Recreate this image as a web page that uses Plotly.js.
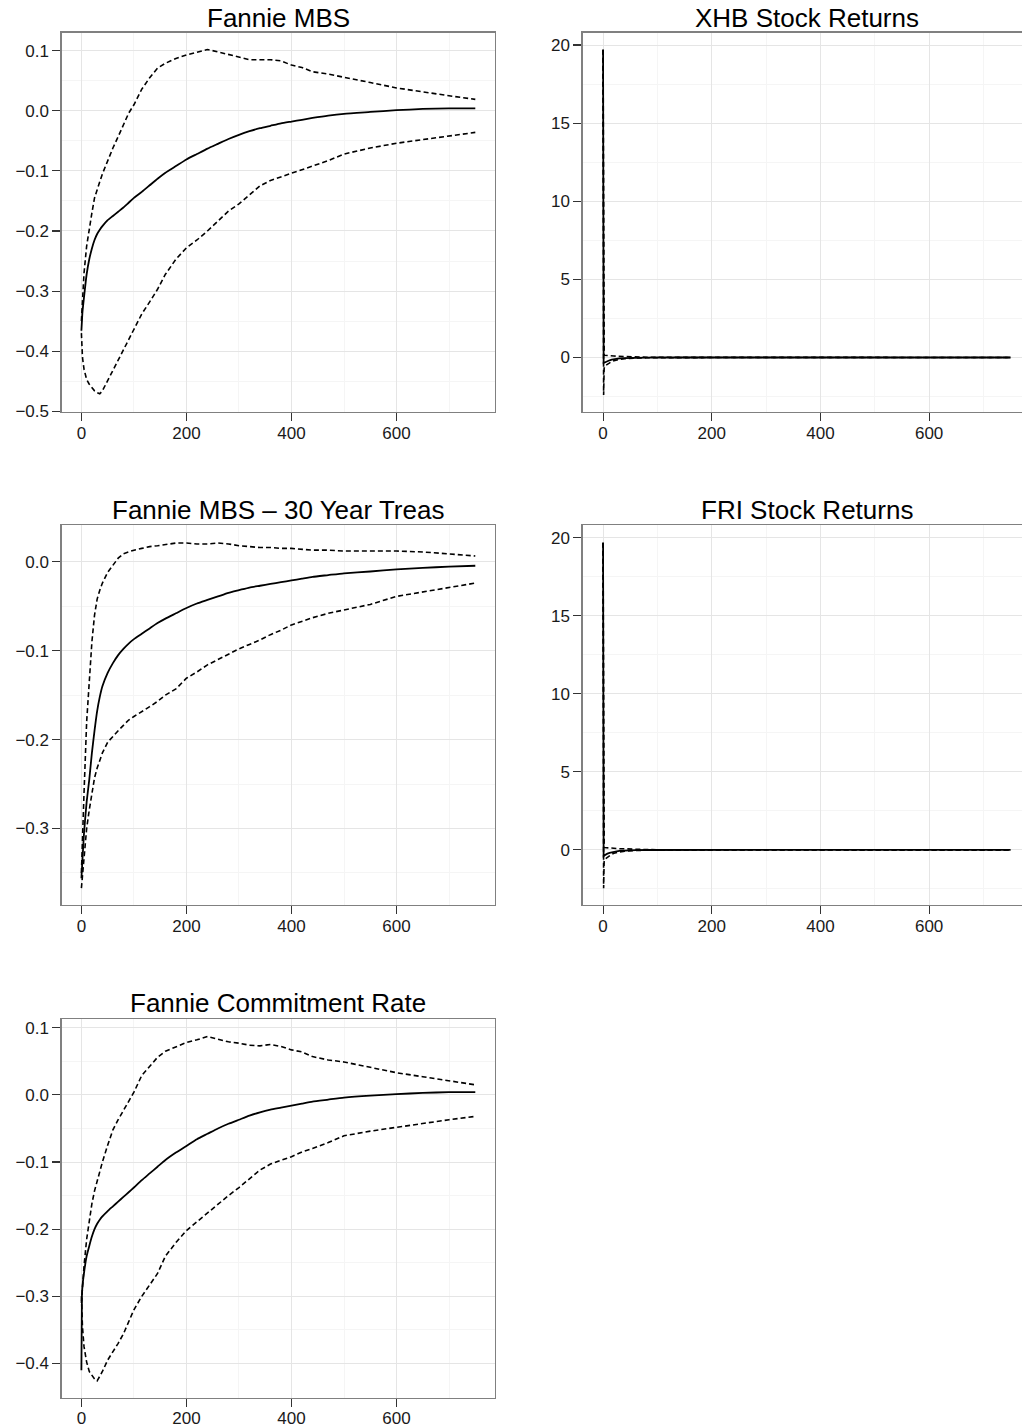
<!DOCTYPE html>
<html>
<head>
<meta charset="utf-8">
<script src="https://cdn.plot.ly/plotly-3.0.1.min.js"></script>
<style>
html,body{margin:0;padding:0;background:#fff;overflow:hidden;}
#chart{width:1040px;height:1428px;}
</style>
</head>
<body>
<div id="chart"></div>
<script>
// ---------- data ----------
const horizon = [0,1,2,5,10,15,20,25,30,35,40,50,60,70,80,90,100,115,130,145,160,180,200,220,240,260,280,300,320,340,360,380,400,420,440,470,500,550,600,650,700,750];

// Fannie MBS
const mbsMid = [-0.366,-0.35,-0.335,-0.31,-0.272,-0.247,-0.229,-0.215,-0.205,-0.198,-0.192,-0.182,-0.175,-0.168,-0.161,-0.153,-0.145,-0.135,-0.124,-0.113,-0.103,-0.092,-0.081,-0.072,-0.063,-0.055,-0.047,-0.040,-0.034,-0.029,-0.025,-0.021,-0.018,-0.015,-0.012,-0.008,-0.005,-0.002,0.001,0.003,0.004,0.004];
const mbsUp  = [-0.35,-0.33,-0.31,-0.27,-0.225,-0.195,-0.17,-0.145,-0.13,-0.118,-0.105,-0.082,-0.062,-0.043,-0.022,-0.004,0.01,0.036,0.055,0.071,0.079,0.087,0.093,0.097,0.102,0.098,0.094,0.09,0.085,0.085,0.085,0.083,0.076,0.072,0.065,0.061,0.056,0.047,0.038,0.031,0.025,0.019];
const mbsLo  = [-0.37,-0.39,-0.41,-0.43,-0.447,-0.455,-0.461,-0.466,-0.469,-0.471,-0.466,-0.45,-0.432,-0.415,-0.398,-0.38,-0.363,-0.338,-0.318,-0.297,-0.272,-0.247,-0.228,-0.215,-0.2,-0.184,-0.167,-0.155,-0.14,-0.125,-0.116,-0.11,-0.103,-0.097,-0.092,-0.083,-0.072,-0.062,-0.054,-0.048,-0.042,-0.036];

// Fannie MBS - 30 Year Treas
const sprMid = [-0.356,-0.346,-0.335,-0.305,-0.27,-0.245,-0.215,-0.19,-0.168,-0.152,-0.14,-0.125,-0.114,-0.105,-0.098,-0.092,-0.087,-0.081,-0.075,-0.069,-0.064,-0.058,-0.052,-0.047,-0.043,-0.039,-0.035,-0.032,-0.029,-0.027,-0.025,-0.023,-0.021,-0.019,-0.017,-0.015,-0.013,-0.011,-0.0086,-0.007,-0.0055,-0.0045];
const sprUp  = [-0.35,-0.33,-0.31,-0.26,-0.18,-0.13,-0.09,-0.06,-0.042,-0.032,-0.024,-0.012,-0.004,0.004,0.009,0.011,0.013,0.015,0.017,0.018,0.019,0.021,0.021,0.020,0.020,0.021,0.020,0.018,0.017,0.016,0.016,0.015,0.015,0.014,0.013,0.013,0.012,0.012,0.012,0.011,0.009,0.0065];
const sprLo  = [-0.367,-0.36,-0.35,-0.33,-0.3,-0.279,-0.258,-0.243,-0.232,-0.222,-0.215,-0.203,-0.196,-0.19,-0.184,-0.178,-0.174,-0.168,-0.163,-0.157,-0.15,-0.143,-0.131,-0.124,-0.116,-0.11,-0.104,-0.098,-0.093,-0.088,-0.082,-0.077,-0.071,-0.067,-0.063,-0.058,-0.054,-0.048,-0.039,-0.034,-0.029,-0.024];

// Fannie Commitment Rate
const comMid = [-0.41,-0.30,-0.285,-0.265,-0.24,-0.225,-0.211,-0.2,-0.192,-0.186,-0.181,-0.173,-0.166,-0.159,-0.152,-0.145,-0.138,-0.127,-0.117,-0.107,-0.097,-0.086,-0.076,-0.066,-0.058,-0.05,-0.043,-0.037,-0.031,-0.026,-0.022,-0.019,-0.016,-0.013,-0.010,-0.007,-0.004,-0.001,0.001,0.003,0.004,0.004];
const comUp  = [-0.31,-0.295,-0.285,-0.255,-0.215,-0.185,-0.162,-0.143,-0.128,-0.113,-0.1,-0.075,-0.052,-0.037,-0.024,-0.009,0.004,0.029,0.042,0.056,0.065,0.072,0.078,0.082,0.087,0.083,0.079,0.077,0.074,0.073,0.075,0.072,0.067,0.064,0.057,0.052,0.049,0.041,0.033,0.027,0.021,0.015];
const comLo  = [-0.30,-0.32,-0.345,-0.375,-0.398,-0.412,-0.418,-0.423,-0.426,-0.42,-0.412,-0.395,-0.383,-0.37,-0.356,-0.338,-0.32,-0.3,-0.282,-0.266,-0.24,-0.22,-0.202,-0.189,-0.175,-0.162,-0.15,-0.138,-0.125,-0.112,-0.103,-0.098,-0.092,-0.085,-0.08,-0.071,-0.061,-0.054,-0.048,-0.043,-0.037,-0.032];

// Stock returns
const stockHorizon = [0,1,2,3,5,8,12,16,20,25,30,40,50,60,80,100,150,200,300,400,500,600,750];
const xhbMid = [19.7,-0.35,-0.34,-0.32,-0.28,-0.23,-0.18,-0.14,-0.11,-0.08,-0.06,-0.035,-0.02,-0.01,-0.005,-0.002,0,0,0,0,0,0,0];
const xhbUp  = [19.7,0.15,0.15,0.14,0.13,0.12,0.11,0.1,0.09,0.08,0.07,0.05,0.035,0.025,0.015,0.01,0.006,0.004,0.002,0.001,0.001,0.0005,0];
const xhbLo  = [19.7,-2.4,-0.7,-0.55,-0.5,-0.42,-0.33,-0.26,-0.21,-0.16,-0.12,-0.08,-0.05,-0.035,-0.02,-0.012,-0.006,-0.004,-0.002,-0.001,-0.001,-0.0005,0];
const friMid = [19.68,-0.4,-0.38,-0.35,-0.3,-0.24,-0.19,-0.15,-0.12,-0.09,-0.065,-0.04,-0.022,-0.012,-0.006,-0.002,0,0,0,0,0,0,0];
const friUp  = [19.68,0.16,0.16,0.15,0.14,0.13,0.12,0.11,0.1,0.09,0.08,0.06,0.045,0.03,0.018,0.012,0.007,0.004,0.002,0.001,0.001,0.0005,0];
const friLo  = [19.68,-2.46,-0.75,-0.6,-0.55,-0.45,-0.36,-0.28,-0.22,-0.17,-0.13,-0.09,-0.055,-0.04,-0.022,-0.013,-0.007,-0.004,-0.002,-0.001,-0.001,-0.0005,0];

const titles = ["Fannie MBS","XHB Stock Returns","Fannie MBS \u2013 30 Year Treas","FRI Stock Returns","Fannie Commitment Rate"];
const xTicks = [0,200,400,600];

// ---------- layout geometry ----------
const W = 1040, H = 1428;
const cols = [[61.7,495],[582.7,1031]];
const rows = [[32.7,412],[525,905],[1019,1397.7]];
const titleY = [18,509.5,1003.5];

const panels = [
  {x:horizon, mid:mbsMid, up:mbsUp, lo:mbsLo, col:0,row:0, yr:[-0.5012,0.1299], dt:0.1, fmt:'.1f', smooth:true},
  {x:stockHorizon, mid:xhbMid, up:xhbUp, lo:xhbLo, col:1,row:0, yr:[-3.49,20.79], dt:5, fmt:'d', smooth:false},
  {x:horizon, mid:sprMid, up:sprUp, lo:sprLo, col:0,row:1, yr:[-0.386,0.0413], dt:0.1, fmt:'.1f', smooth:true},
  {x:stockHorizon, mid:friMid, up:friUp, lo:friLo, col:1,row:1, yr:[-3.53,20.81], dt:5, fmt:'d', smooth:false},
  {x:horizon, mid:comMid, up:comUp, lo:comLo, col:0,row:2, yr:[-0.451,0.113], dt:0.1, fmt:'.1f', smooth:true}
];

const font = 'Liberation Sans, Arial, Helvetica, sans-serif';
const traces = [];
const layout = {
  width: W, height: H,
  margin:{l:0,r:0,t:0,b:0},
  paper_bgcolor:'#fff', plot_bgcolor:'#fff',
  showlegend:false,
  annotations:[]
};

panels.forEach((p,i)=>{
  const n = i===0 ? '' : String(i+1);
  const xa = 'x'+n, ya = 'y'+n;
  const dashLine = {color:'#000', width:1.6, dash:'5px,3px'};
  traces.push({x:p.x, y:p.up, xaxis:xa, yaxis:ya, mode:'lines', line:dashLine, hoverinfo:'skip'});
  traces.push({x:p.x, y:p.lo, xaxis:xa, yaxis:ya, mode:'lines', line:dashLine, hoverinfo:'skip'});
  const solid = {color:'#000', width:1.8};
  if (p.smooth) { solid.shape = 'spline'; solid.smoothing = 0.5; }
  traces.push({x:p.x, y:p.mid, xaxis:xa, yaxis:ya, mode:'lines', line:solid, hoverinfo:'skip'});
  const c = cols[p.col], r = rows[p.row];
  const common = {
    showline:true, mirror:true, linecolor:'#808080', linewidth:1.3,
    showgrid:true, gridcolor:'#e5e5e5', gridwidth:1, zeroline:false,
    ticks:'outside', ticklen:8, tickwidth:1.1, tickcolor:'#333',
    tickfont:{family:font, size:17, color:'#1a1a1a'}
  };
  layout['xaxis'+n] = Object.assign({}, common, {
    domain:[c[0]/W, c[1]/W], anchor:ya, range:[-37.5,787.5],
    tickmode:'array', tickvals:xTicks, ticktext:xTicks.map(String),
    ticklabelstandoff:-3,
    minor:{tickmode:'array', tickvals:[100,300,500,700], showgrid:true, gridcolor:'#f5f5f5', gridwidth:1, ticks:''}
  });
  layout['yaxis'+n] = Object.assign({}, common, {
    domain:[1-r[1]/H, 1-r[0]/H], anchor:xa, range:p.yr,
    tick0:0, dtick:p.dt, tickformat:p.fmt,
    minor:{tick0:0, dtick:p.dt/2, showgrid:true, gridcolor:'#f5f5f5', gridwidth:1, ticks:''}
  });
  layout.annotations.push({
    text:titles[i], xref:'paper', yref:'paper',
    x:(c[0]+c[1])/2/W, y:1-titleY[p.row]/H, xanchor:'center', yanchor:'middle',
    showarrow:false, font:{family:font, size:26, color:'#000'}
  });
});

Plotly.newPlot('chart', traces, layout, {staticPlot:true, displayModeBar:false});
</script>
</body>
</html>
